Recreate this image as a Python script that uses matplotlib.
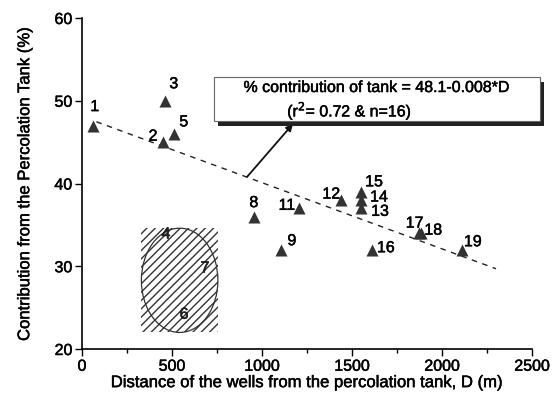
import matplotlib
matplotlib.use("Agg")
import matplotlib.pyplot as plt
import matplotlib.patheffects as pe
from matplotlib.patches import Rectangle, Ellipse
from matplotlib.ticker import MultipleLocator

plt.rcParams['font.family'] = ['Liberation Sans', 'DejaVu Sans']
plt.rcParams['font.size'] = 11
plt.rcParams['hatch.linewidth'] = 1.0
plt.rcParams['hatch.color'] = '#333333'

# thickens the glyphs a little so the text reads as in print
ink = [pe.withStroke(linewidth=0.35, foreground='black')]

# well id, distance from the tank (m), tank contribution (%)
well_ids = ['1', '2', '3', '5', '8', '9', '11', '12', '13', '14', '15', '16', '17', '18', '19']
distance = [60, 450, 460, 510, 955, 1105, 1205, 1440, 1550, 1550, 1550, 1610, 1870, 1885, 2110]
contribution = [47, 45, 50, 46, 36, 32, 37, 38, 37, 38, 39, 32, 34, 34, 32]
# label offsets in pixels
label_offsets = [(2, 19), (-10, 6), (9, 17), (10, 12), (0, 14), (11, 9), (-12, 3), (-10, 6),
                 (19, -3), (18, 3), (13, 10), (14, 2), (-4, 10), (12, 3), (11, 8)]

# wells 4, 6 and 7 fall inside the hatched zone
zone_ids = ['4', '6', '7']
zone_x = [467, 567, 683]
zone_y = [33.9, 24.2, 29.8]
zone_d = (330, 755)
zone_c = (22.0, 34.6)

# regression: % contribution = 48.1 - 0.008*D
intercept = 48.1
slope = -0.008
fit_d = [80, 2300]

fig = plt.figure(figsize=(5.6, 4), dpi=100)
ax = fig.add_axes([0.1464, 0.1275, 0.8036, 0.8275])

ax.add_patch(Rectangle((zone_d[0], zone_c[0]), zone_d[1] - zone_d[0], zone_c[1] - zone_c[0],
                       facecolor='white', linewidth=0, hatch='////'))
ax.add_patch(Ellipse(((zone_d[0] + zone_d[1]) / 2, (zone_c[0] + zone_c[1]) / 2),
                     zone_d[1] - zone_d[0], zone_c[1] - zone_c[0],
                     facecolor='none', edgecolor='#333333', linewidth=0.9))
for t, x, y in zip(zone_ids, zone_x, zone_y):
    ax.text(x, y, t, ha='center', va='center', fontsize=11.5, color='#222222',
            path_effects=ink)

ax.plot(fit_d, [intercept + slope * d for d in fit_d], color='#222222',
        linestyle=(0, (4, 4)), linewidth=1)

ax.scatter(distance, contribution, marker='^', s=75, color='#333333', zorder=3, linewidths=0)
for t, x, y, off in zip(well_ids, distance, contribution, label_offsets):
    ax.annotate(t, (x, y), xytext=off, textcoords='offset pixels',
                ha='center', va='center', fontsize=11.5, path_effects=ink)

# equation box with drop shadow
box_x, box_y, box_w, box_h = 733, 47.5, 1810, 5.4
ax.add_patch(Rectangle((box_x + 22, box_y - 0.6), box_w, box_h, facecolor='#222222',
                       edgecolor='none', clip_on=False, zorder=4))
ax.add_patch(Rectangle((box_x, box_y), box_w, box_h, facecolor='white',
                       edgecolor='#666666', linewidth=0.8, clip_on=False, zorder=5))
ax.text(1640, 51.6, '% contribution of tank = 48.1-0.008*D', ha='center', va='center',
        fontsize=11.5, zorder=6, clip_on=False, path_effects=ink)
ax.text(1140, 48.8, '(r$^2$= 0.72 & n=16)', ha='left', va='center',
        fontsize=11.5, zorder=6, path_effects=ink)
ax.annotate('', xy=(1172, 47.2), xytext=(917, 40.8),
            arrowprops=dict(arrowstyle='-|>', color='#111111', lw=1.3,
                            mutation_scale=10, shrinkA=0, shrinkB=0))

ax.set_xlim(0, 2500)
ax.set_ylim(20, 60)
ax.xaxis.set_major_locator(MultipleLocator(500))
ax.xaxis.set_minor_locator(MultipleLocator(250))
ax.yaxis.set_major_locator(MultipleLocator(10))
ax.spines['top'].set_visible(False)
ax.spines['right'].set_visible(False)
for s in ('left', 'bottom'):
    ax.spines[s].set_linewidth(1.2)
ax.tick_params(which='major', length=5, width=1, labelsize=11.5, pad=2)
ax.tick_params(which='minor', length=3, width=1)
for lab in ax.get_xticklabels() + ax.get_yticklabels():
    lab.set_path_effects(ink)

ax.set_xlabel('Distance of the wells from the percolation tank, D (m)', fontsize=12,
              labelpad=1, path_effects=ink)
ax.set_ylabel('Contribution from the Percolation Tank (%)', fontsize=12,
              labelpad=16, path_effects=ink)

fig.savefig('out.png', dpi=100)
